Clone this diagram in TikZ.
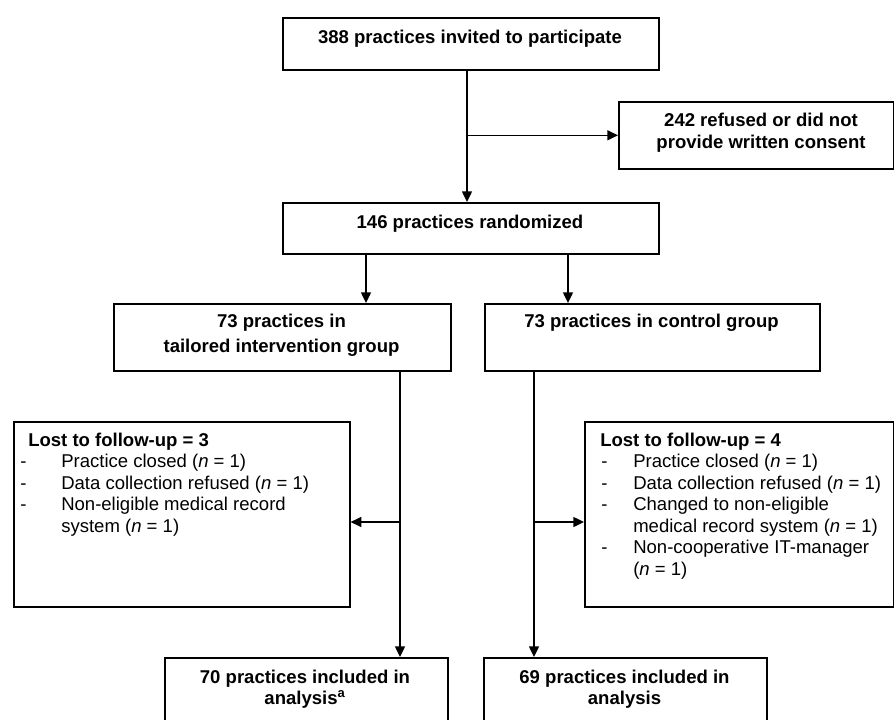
\documentclass[tikz,border=0pt]{standalone}
\usepackage{fontspec}
\setmainfont{Liberation Sans}
\usetikzlibrary{arrows.meta}
\begin{document}
\begin{tikzpicture}[x=0.75pt,y=-0.75pt,
  box/.style={draw, line width=1.2pt, inner sep=0pt, anchor=north west},
  txt/.style={inner sep=0pt, font=\fontsize{13.9}{16}\selectfont},
  bt/.style={txt, font=\fontsize{13.9}{16}\selectfont\bfseries, anchor=base},
  it/.style={txt, anchor=base west},
  arr/.style={line width=1pt, -{Triangle[length=8pt,width=7.5pt]}}]
\useasboundingbox (0,0) rectangle (894,719);
\clip (0,0) rectangle (894,719);
\fill[white] (0,0) rectangle (894,719);

% boxes
\node[box, minimum width=282pt, minimum height=39pt] (top) at (282,17) {};
\node[box, minimum width=206.25pt, minimum height=50.25pt] (refused) at (618,101) {};
\node[box, minimum width=282pt, minimum height=38.25pt] (rand) at (282,202) {};
\node[box, minimum width=252.75pt, minimum height=50.25pt] (int) at (113,303) {};
\node[box, minimum width=251.25pt, minimum height=50.25pt] (ctrl) at (484,303) {};
\node[box, minimum width=252pt, minimum height=138.75pt] (lostL) at (13,421) {};
\node[box, minimum width=231.75pt, minimum height=138.75pt] (lostR) at (584,421) {};
\node[box, minimum width=212.25pt, minimum height=75pt] (anaL) at (164,657) {};
\node[box, minimum width=212.25pt, minimum height=75pt] (anaR) at (483,657) {};

% texts
\node[bt] (t1) at (470,43) {388 practices invited to participate};
\node[bt] (t2a) at (761,126) {242 refused or did not};
\node[bt] (t2b) at (761,148) {provide written consent};
\node[bt] (t3) at (470,228) {146 practices randomized};
\node[bt] (t4a) at (281.5,327) {73 practices in};
\node[bt] (t4b) at (281.5,352) {tailored intervention group};
\node[bt] (t5) at (651.5,327) {73 practices in control group};
\node[bt] (t8a) at (305,683) {70 practices included in};
\node[bt] (t8b) at (305,704) {analysis\textsuperscript{a}};
\node[bt] (t9a) at (624.5,683) {69 practices included in};
\node[bt] (t9b) at (624.5,704) {analysis};

% lost to follow-up, left
\node[it, font=\fontsize{13.9}{16}\selectfont\bfseries] (l0) at (28,446) {Lost to follow-up = 3};
\node[it] (ld1) at (20,467) {-};
\node[it] (l1) at (61,467) {Practice closed (\textit{n} = 1)};
\node[it] (ld2) at (20,489) {-};
\node[it] (l2) at (61,489) {Data collection refused (\textit{n} = 1)};
\node[it] (ld3) at (20,510) {-};
\node[it] (l3) at (61,510) {Non-eligible medical record};
\node[it] (l4) at (61,532) {system (\textit{n} = 1)};

% lost to follow-up, right
\node[it, font=\fontsize{13.9}{16}\selectfont\bfseries] (r0) at (600,446) {Lost to follow-up = 4};
\node[it] (rd1) at (601,467) {-};
\node[it] (r1) at (633,467) {Practice closed (\textit{n} = 1)};
\node[it] (rd2) at (601,489) {-};
\node[it] (r2) at (633,489) {Data collection refused (\textit{n} = 1)};
\node[it] (rd3) at (601,510) {-};
\node[it] (r3) at (633,510) {Changed to non-eligible};
\node[it] (r4) at (633,532) {medical record system (\textit{n} = 1)};
\node[it] (rd5) at (601,553) {-};
\node[it] (r5) at (633,553) {Non-cooperative IT-manager};
\node[it] (r6) at (633,575) {(\textit{n} = 1)};

% connectors
\coordinate (xa) at (467,0);
\draw[arr] (top.south -| xa) -- (rand.north -| xa);
\draw[arr] (refused.west -| xa) -- (refused.west);
\coordinate (xb) at (366,0);
\draw[arr] (rand.south -| xb) -- (int.north -| xb);
\coordinate (xc) at (568,0);
\draw[arr] (rand.south -| xc) -- (ctrl.north -| xc);
\coordinate (bl) at (400,522);
\draw[arr] (int.south -| bl) -- (anaL.north -| bl);
\draw[arr] (bl) -- (bl -| lostL.east);
\coordinate (br) at (534,522);
\draw[arr] (ctrl.south -| br) -- (anaR.north -| br);
\draw[arr] (br) -- (br -| lostR.west);
\end{tikzpicture}
\end{document}
